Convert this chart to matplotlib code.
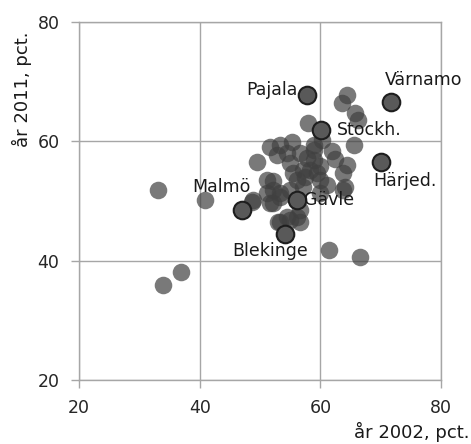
import matplotlib
matplotlib.use('Agg')
import matplotlib.pyplot as plt

# other municipalities: (2002, 2011)
x_other = [33.1, 40.9, 33.9, 36.9, 61.5, 66.6, 64.4, 63.6, 65.8, 66.3, 58.0, 65.5,
           64.4, 63.8, 63.8, 49.5, 48.7, 53.3, 55.3, 52.8, 54.4, 56.6, 58.9, 60.2,
           61.9, 58.9, 57.8, 60.0, 59.4, 57.2, 55.5, 61.1, 60.0, 51.1, 52.2, 53.3,
           52.2, 56.1, 57.2, 55.0, 54.4, 56.1, 56.6, 53.3, 51.7, 60.0, 51.1, 58.3,
           55.0, 52.2, 53.3, 51.7, 55.0, 56.6, 53.0, 64.1, 48.9, 62.5, 57.5, 59.0]
y_other = [51.9, 50.2, 36.0, 38.1, 41.8, 40.6, 67.8, 66.4, 64.7, 63.6, 63.0, 59.4,
           56.0, 54.7, 51.9, 56.6, 49.8, 59.4, 59.9, 57.7, 58.0, 58.0, 59.4, 60.2,
           58.3, 56.9, 57.2, 55.8, 54.7, 55.2, 54.7, 52.7, 53.5, 53.5, 51.9, 50.7,
           49.6, 53.5, 52.4, 51.9, 47.4, 47.4, 48.5, 46.5, 59.1, 51.4, 51.3, 55.2,
           56.3, 53.3, 51.3, 49.7, 46.8, 46.5, 46.5, 52.4, 50.2, 57.0, 54.0, 58.5]

names = ['Pajala', 'Värnamo', 'Stockh.', 'Härjed.', 'Gävle', 'Malmö', 'Blekinge']
x_named = [57.8, 71.7, 60.1, 70.1, 56.2, 47.0, 54.2]
y_named = [67.8, 66.6, 61.9, 56.5, 50.2, 48.5, 44.5]

# label offsets in pixels and alignment
offsets = [(-9, 5, 'right'), (33, 22, 'center'), (16, 0, 'left'), (24, -19, 'center'),
           (7, 0, 'left'), (-20, 23, 'center'), (-15, -17, 'center')]

fig = plt.figure(figsize=(4.71, 4.44), dpi=100)
ax = fig.add_axes([0.1677, 0.1441, 0.7686, 0.8064])

ax.scatter(x_other, y_other, s=160, color='#404040', alpha=0.7, linewidths=0, zorder=3)
ax.scatter(x_named, y_named, s=160, color='#595959', edgecolors='#1e1e1e', linewidths=1.5, zorder=4)

for n, x, y, (dx, dy, ha) in zip(names, x_named, y_named, offsets):
    ax.annotate(n, (x, y), xytext=(dx, dy), textcoords='offset pixels',
                ha=ha, va='center', fontsize=12.5, color='#1a1a1a', zorder=5)

ax.set_xlim(20, 80)
ax.set_ylim(20, 80)
ax.set_xticks([20, 40, 60, 80])
ax.set_yticks([20, 40, 60, 80])
ax.grid(True, color='#a6a6a6', linewidth=1)
ax.set_axisbelow(True)
for s in ax.spines.values():
    s.set_color('#a6a6a6')
    s.set_linewidth(1)
ax.tick_params(colors='#a6a6a6', labelcolor='#262626', labelsize=12.5, length=6, width=1, pad=8)

fig.text(0.997, 0.028, 'år 2002, pct.', ha='right', va='center', fontsize=13, color='#1a1a1a')
fig.text(0.047, 0.80, 'år 2011, pct.', ha='center', va='center', rotation=90, fontsize=13, color='#1a1a1a')

plt.savefig('out.png', dpi=100)
